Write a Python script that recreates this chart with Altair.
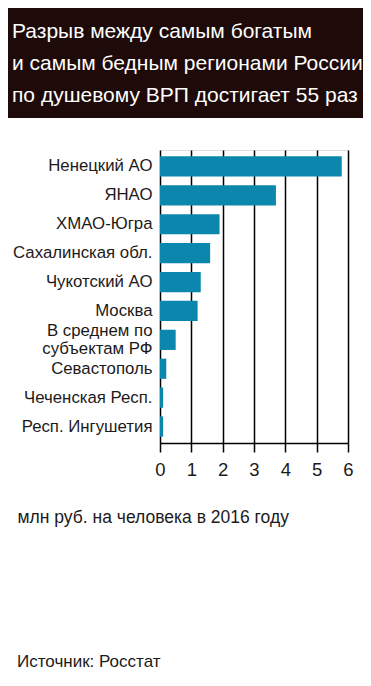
import altair as alt
import pandas as pd

regions = ["Ненецкий АО", "ЯНАО", "ХМАО-Югра", "Сахалинская обл.", "Чукотский АО",
           "Москва", "В среднем по\nсубъектам РФ", "Севастополь", "Чеченская Респ.",
           "Респ. Ингушетия"]
values = [5.8, 3.7, 1.9, 1.6, 1.3, 1.2, 0.5, 0.2, 0.1, 0.1]
x_ticks = [0, 1, 2, 3, 4, 5, 6]
title_lines = ["Разрыв между самым богатым", "и самым бедным регионами России",
               "по душевому ВРП достигает 55 раз"]
x_title = "млн руб. на человека в 2016 году"
source = "Источник:  Росстат"

FONT = "Liberation Sans"
INK = "#1d1a1a"

df = pd.DataFrame({"region": regions, "value": values})
meta = pd.DataFrame({"title": ["\n".join(title_lines)], "source": [source]})

bars = alt.Chart(df).mark_bar(color="#0b86ad").encode(
    x=alt.X("value:Q",
            scale=alt.Scale(domain=[0, 6], nice=False),
            axis=alt.Axis(values=x_ticks, format="d", title=x_title,
                          grid=True, gridColor="black", gridWidth=1.5, gridOpacity=1,
                          domain=True, domainColor="black", domainWidth=1.5,
                          ticks=True, tickSize=9, tickColor="black", tickWidth=1.5,
                          labelFont=FONT, labelFontSize=18.5, labelColor=INK,
                          labelPadding=8, labelFlush=False,
                          titleFont=FONT, titleFontSize=17.5, titleFontWeight="normal",
                          titleColor=INK, titleX=-143, titleY=79, titleAlign="left",
                          titleAnchor="start", titleBaseline="alphabetic")),
    y=alt.Y("region:N", sort=None,
            scale=alt.Scale(paddingInner=0.3, paddingOuter=0.22),
            axis=alt.Axis(title=None, domain=False, ticks=False, grid=False,
                          labelFont=FONT, labelFontSize=16.8, labelColor=INK,
                          labelPadding=8, labelLimit=200, labelLineHeight=18,
                          labelOffset={"condition": {"test": "indexof(datum.value, '\\n') >= 0",
                                                     "value": -9},
                                       "value": 0},
                          labelExpr="split(datum.label, '\\n')")),
)

header = alt.Chart(meta).mark_rect(color="#1e0b09").encode(
    x=alt.value(-152), x2=alt.value(203), y=alt.value(-142), y2=alt.value(-32)
)

title_text = alt.Chart(meta).mark_text(
    font=FONT, fontSize=21, color="white", align="left", baseline="alphabetic",
    lineBreak="\n", lineHeight=32
).encode(x=alt.value(-148), y=alt.value(-112), text="title:N")

source_text = alt.Chart(meta).mark_text(
    font=FONT, fontSize=17, color=INK, align="left", baseline="alphabetic"
).encode(x=alt.value(-143), y=alt.value(517), text="source:N")

chart = alt.layer(header, title_text, bars, source_text).properties(
    width=188, height=293,
    autosize=alt.AutoSizeParams(type="none"),
    padding={"left": 152, "top": 142, "right": 15, "bottom": 230},
).configure_view(stroke="black", strokeWidth=1.5).configure(background="white")

chart.save("out.html", embed_options={"renderer": "svg", "actions": False})
